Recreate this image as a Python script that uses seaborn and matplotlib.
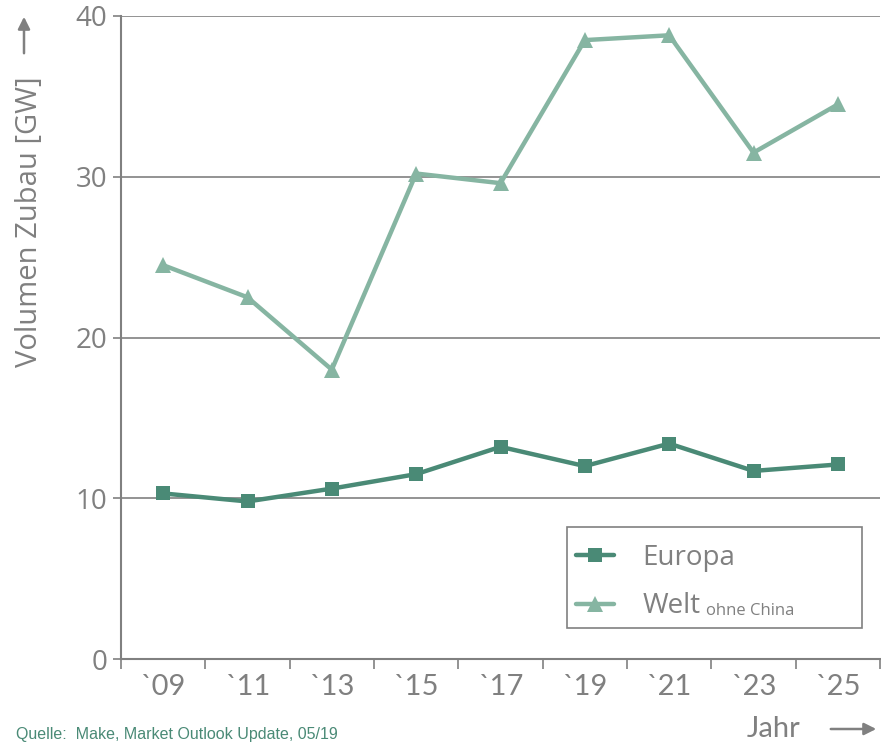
import matplotlib
matplotlib.use("Agg")
import matplotlib.pyplot as plt
import matplotlib.patches as mpatches
import seaborn as sns
import pandas as pd

years = [2009, 2011, 2013, 2015, 2017, 2019, 2021, 2023, 2025]
year_labels = ["`09", "`11", "`13", "`15", "`17", "`19", "`21", "`23", "`25"]
europa = [10.3, 9.8, 10.6, 11.5, 13.2, 12.0, 13.4, 11.7, 12.1]
welt = [24.5, 22.5, 18.0, 30.2, 29.6, 38.5, 38.8, 31.5, 34.5]

sns.set_theme(style="white")
plt.rcParams['font.family'] = ['Open Sans', 'DejaVu Sans']

lato = dict(family=['Lato', 'DejaVu Sans'])

c_eu = "#4a8a76"
c_w = "#86b5a2"
grey = "#808080"

fig = plt.figure(figsize=(8.81, 7.43), dpi=100)
ax = fig.add_axes([121/881, 1-659/743, 759/881, (659-16)/743])

df = pd.DataFrame({"Jahr": years + years,
                   "Wert": europa + welt,
                   "Serie": ["Europa"]*len(years) + ["Welt"]*len(years)})

sns.lineplot(data=df[df.Serie == "Europa"], x="Jahr", y="Wert", ax=ax, color=c_eu,
             lw=3.2, marker="s", markeredgewidth=0, label="Europa", zorder=4)
sns.lineplot(data=df[df.Serie == "Welt"], x="Jahr", y="Wert", ax=ax, color=c_w,
             lw=3.2, marker="^", markeredgewidth=0, label="Welt", zorder=3)
sizes = {"s": 13, "^": 18}
for ln in ax.lines:
    m = ln.get_marker()
    if m in sizes:
        ln.set_markersize(sizes[m])
        ln.set_markeredgewidth(0)

ax.set_xlim(2008, 2026)
ax.set_ylim(0, 40)
ax.set_yticks([0, 10, 20, 30, 40])
ax.set_yticklabels(["0", "10", "20", "30", "40"], fontsize=20, color=grey)
ax.set_xticks(list(range(2008, 2027, 2)))
ax.set_xticklabels([])
ax.set_xticks(years, minor=True)
ax.set_xticklabels(year_labels, minor=True, fontsize=21, color=grey, **lato)
ax.tick_params(axis='x', which='major', length=7, width=1.2, color=grey, direction='out', bottom=True)
ax.tick_params(axis='x', which='minor', length=0, pad=11)
ax.tick_params(axis='y', length=6, width=1.2, color=grey, direction='out', left=True, pad=4)

for y in [10, 20, 30, 40]:
    ax.axhline(y, color=grey, lw=1.2, zorder=1)

for s in ["top", "right"]:
    ax.spines[s].set_visible(False)
for s in ["left", "bottom"]:
    ax.spines[s].set_color(grey)
    ax.spines[s].set_linewidth(1.5)

ax.set_xlabel("")
ax.set_ylabel("")

handles, labels = ax.get_legend_handles_labels()
for h in handles:
    h.set_markersize(10 if h.get_marker() == "s" else 12)
    h.set_markeredgewidth(0)
leg = ax.legend(handles, ["Europa", "Welt"], loc="upper left",
                bbox_to_anchor=((563-121)/759, (659-531)/643), fontsize=20,
                frameon=False, borderpad=0.45, handlelength=1.4, handletextpad=1.0,
                labelspacing=0.75, borderaxespad=0)
for t in leg.get_texts():
    t.set_color(grey)

fig.patches.append(mpatches.Rectangle((567/881, 1-628/743), (862-567)/881, (628-527)/743,
                                      transform=fig.transFigure, fill=False,
                                      edgecolor=grey, lw=1.2))

fig.text(30/881, 1-222/743, "Volumen Zubau [GW]", rotation=90, fontsize=21,
         color=grey, ha="center", va="center")

ax.annotate("", xy=(24/881, 1-14/743), xytext=(24/881, 1-56/743), xycoords='figure fraction',
            arrowprops=dict(arrowstyle="-|>", color=grey, lw=1.8, mutation_scale=18))
fig.text(774/881, 1-729/743, "Jahr", fontsize=21, color=grey, ha="center", va="center", **lato)
ax.annotate("", xy=(879/881, 1-729/743), xytext=(828/881, 1-729/743), xycoords='figure fraction',
            arrowprops=dict(arrowstyle="-|>", color=grey, lw=1.8, mutation_scale=18))
fig.text(16/881, 1-734/743, "Quelle:  Make, Market Outlook Update, 05/19", fontsize=11.5,
         color=c_eu, ha="left", va="center", family=['Liberation Sans', 'DejaVu Sans'])

fig.canvas.draw()
welt_text = leg.get_texts()[1]
bb = welt_text.get_window_extent()
fig.text((bb.x1 + 6)/881, (bb.y0 + 5)/743, "ohne China", fontsize=12, color=grey,
         ha="left", va="baseline")

fig.savefig("out.png", dpi=100)
